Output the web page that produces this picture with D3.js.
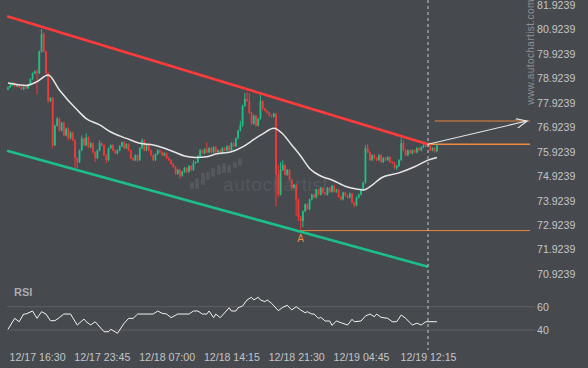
<!DOCTYPE html>
<html>
<head>
<meta charset="utf-8">
<script src="https://cdn.jsdelivr.net/npm/d3@7"></script>
<style>
  body { margin: 0; background: #46494e; }
  svg text { font-family: "Liberation Sans", Arial, sans-serif; }
</style>
</head>
<body>
<div id="chart"></div>
<script>
// 15 minute bars, bar 0 = 12/17 13:15
var opens = [78.48,78.56,78.65,78.73,78.60,78.65,78.56,78.48,78.56,78.52,
78.65,78.89,79.13,79.21,79.13,80.02,80.74,80.02,79.13,78.00,
78.12,76.19,76.99,77.27,76.79,77.11,76.59,76.87,76.47,76.71,
76.39,75.66,75.50,75.98,76.47,76.19,76.51,76.11,76.27,75.90,
75.66,75.98,76.27,76.19,75.78,75.58,76.07,76.19,75.98,75.86,
75.98,76.15,76.31,76.07,76.23,75.98,75.66,75.58,75.78,75.58,
76.07,76.39,75.98,76.23,75.98,75.78,75.58,75.82,75.98,75.90,
75.78,75.86,75.66,75.58,75.42,75.30,75.02,75.18,74.94,75.10,
75.26,75.10,75.34,75.18,75.46,75.50,75.74,75.98,75.86,76.03,
75.90,76.07,75.90,76.11,75.90,75.98,75.86,76.07,75.98,76.15,
75.98,76.27,76.15,76.47,76.79,76.99,77.80,78.08,78.00,77.52,
77.07,77.40,76.99,77.27,78.00,77.68,77.60,77.52,77.40,77.36,
77.48,74.98,74.17,75.18,75.38,74.98,75.18,74.78,74.45,74.57,
73.97,73.25,73.09,73.49,73.77,73.57,73.97,74.17,74.05,74.37,
74.17,74.45,74.25,74.17,74.45,74.29,74.53,74.29,74.37,74.09,
73.97,74.25,74.13,74.05,74.21,73.85,73.73,74.05,74.17,74.37,
74.66,76.07,75.90,75.58,75.78,75.66,75.58,75.78,75.50,75.66,
75.58,75.70,75.50,75.46,75.26,75.34,75.58,76.27,75.98,75.78,
75.98,75.86,75.98,75.90,76.07,75.98,76.11,76.19,76.15,76.27,
75.98,76.07,75.94];

var highs = [78.60,78.69,78.77,78.77,78.69,78.69,78.60,78.60,78.60,78.69,
78.93,79.17,79.25,79.29,80.06,80.94,80.80,80.06,79.17,78.16,
78.16,77.03,77.35,77.31,77.15,77.15,76.91,76.91,76.75,76.75,
76.43,75.70,76.02,76.59,76.51,76.67,76.55,76.31,76.31,75.94,
76.02,76.39,76.31,76.23,75.82,76.11,76.23,76.23,76.02,76.02,
76.19,76.35,76.35,76.27,76.27,76.02,75.70,75.82,75.82,76.11,
76.47,76.43,76.27,76.27,76.02,75.82,75.86,76.02,76.02,75.94,
75.90,75.90,75.70,75.62,75.46,75.34,75.22,75.22,75.14,75.30,
75.30,75.38,75.38,75.58,75.54,75.78,76.03,76.02,76.07,76.31,
76.11,76.11,76.15,76.15,76.02,76.02,76.11,76.11,76.19,76.19,
76.31,76.31,76.51,76.83,77.19,77.84,78.32,78.36,78.32,77.56,
77.44,77.44,77.31,78.24,78.04,77.72,77.64,77.56,77.44,77.52,
77.52,75.38,75.50,75.58,75.42,75.22,75.22,74.82,74.61,74.61,
74.01,73.29,73.53,73.81,73.81,74.01,74.21,74.21,74.41,74.41,
74.49,74.49,74.29,74.49,74.49,74.57,74.57,74.41,74.41,74.13,
74.29,74.29,74.17,74.25,74.25,73.89,74.09,74.21,74.41,74.70,
76.19,76.23,75.94,75.82,75.82,75.70,75.82,75.82,75.70,75.70,
75.74,75.74,75.54,75.50,75.38,75.62,76.51,76.39,76.02,76.02,
76.02,76.02,76.02,76.11,76.11,76.15,76.23,76.23,76.31,76.31,
76.11,76.11,76.23];

var lows = [78.44,78.52,78.61,78.56,78.56,78.52,78.44,78.44,78.48,78.48,
78.61,78.85,79.09,78.28,79.09,79.98,79.98,79.09,77.92,77.96,
76.07,76.15,76.95,76.75,76.75,76.55,76.55,76.39,76.43,76.35,
75.26,75.26,75.46,75.94,76.15,76.15,76.07,76.07,75.86,75.50,
75.62,75.94,76.15,75.74,75.46,75.54,76.03,75.94,75.82,75.82,
75.94,76.11,76.03,76.03,75.94,75.62,75.54,75.54,75.50,75.54,
76.03,75.94,75.94,75.94,75.74,75.54,75.54,75.78,75.86,75.74,
75.74,75.62,75.54,75.38,75.26,74.98,74.98,74.82,74.90,75.06,
75.06,75.06,75.14,75.14,75.42,75.46,75.70,75.82,75.82,75.86,
75.86,75.86,75.86,75.86,75.86,75.82,75.82,75.94,75.94,75.94,
75.94,76.11,76.11,76.43,76.75,76.95,77.76,77.96,77.48,77.03,
77.03,76.95,76.95,77.23,77.64,77.56,77.48,77.36,77.32,77.32,
73.69,74.09,74.13,75.14,74.94,74.94,74.74,74.41,74.41,73.29,
73.09,72.70,72.84,73.45,73.53,73.53,73.93,74.01,74.01,74.13,
74.13,74.21,74.13,74.13,74.25,74.25,74.25,74.25,74.05,73.93,
73.93,74.09,74.01,74.01,73.81,73.65,73.69,74.01,74.13,74.33,
74.62,75.86,75.54,75.54,75.62,75.54,75.54,75.46,75.46,75.54,
75.54,75.46,75.42,75.22,75.18,75.30,75.54,75.94,75.74,75.74,
75.82,75.82,75.86,75.86,75.94,75.94,76.07,76.11,76.11,75.94,
75.94,75.90,75.90];

var closes = [78.56,78.65,78.73,78.60,78.65,78.56,78.48,78.56,78.52,78.65,
78.89,79.13,79.21,79.13,80.02,80.74,80.02,79.13,78.00,78.12,
76.19,76.99,77.27,76.79,77.11,76.59,76.87,76.47,76.71,76.39,
75.66,75.50,75.98,76.47,76.19,76.51,76.11,76.27,75.90,75.66,
75.98,76.27,76.19,75.78,75.58,76.07,76.19,75.98,75.86,75.98,
76.15,76.31,76.07,76.23,75.98,75.66,75.58,75.78,75.58,76.07,
76.39,75.98,76.23,75.98,75.78,75.58,75.82,75.98,75.90,75.78,
75.86,75.66,75.58,75.42,75.30,75.02,75.18,74.94,75.10,75.26,
75.10,75.34,75.18,75.46,75.50,75.74,75.98,75.86,76.03,75.90,
76.07,75.90,76.11,75.90,75.98,75.86,76.07,75.98,76.15,75.98,
76.27,76.15,76.47,76.79,76.99,77.80,78.08,78.00,77.52,77.07,
77.40,76.99,77.27,78.00,77.68,77.60,77.52,77.40,77.36,77.48,
74.98,74.17,75.18,75.38,74.98,75.18,74.78,74.45,74.57,73.97,
73.25,73.09,73.49,73.77,73.57,73.97,74.17,74.05,74.37,74.17,
74.45,74.25,74.17,74.45,74.29,74.53,74.29,74.37,74.09,73.97,
74.25,74.13,74.05,74.21,73.85,73.73,74.05,74.17,74.37,74.66,
76.07,75.90,75.58,75.78,75.66,75.58,75.78,75.50,75.66,75.58,
75.70,75.50,75.46,75.26,75.34,75.58,76.27,75.98,75.78,75.98,
75.86,75.98,75.90,76.07,75.98,76.11,76.19,76.15,76.27,75.98,
76.07,75.94,76.19];

// moving average, read at a few bars
var maBars   = [0,8,13,18,23,31,35,41,46,53,59,65,69,75,79,84,89,93,100,105,109,114,119,123,127,131,135,140,145,152,156,159,163,167,175,182,188,192];
var maValues = [78.73,78.63,78.79,79.06,78.45,77.63,77.28,77.02,76.73,76.47,76.27,76.20,76.10,75.89,75.75,75.69,75.72,75.83,75.92,76.12,76.36,76.65,76.88,76.65,76.20,75.75,75.24,74.93,74.77,74.48,74.40,74.36,74.56,74.85,75.06,75.31,75.58,75.69];

// RSI
var rsiBars   = [0,3,5,7,8,11,13,15,17,19,21,23,25,28,31,34,35,37,39,43,45,46,49,52,54,56,58,59,65,67,69,71,73,76,81,83,85,87,89,90,92,93,95,99,100,102,103,105,107,109,110,112,113,115,116,118,121,123,125,127,129,131,133,134,136,137,139,140,142,144,145,147,149,152,154,155,158,160,162,164,165,167,170,172,174,176,178,181,183,185,187,192];
var rsiValues = [40.6,50.0,47.1,53.7,53.7,56.3,50.0,55.7,53.7,48.0,48.0,50.6,53.7,53.7,44.3,49.4,47.1,44.3,47.1,38.5,38.5,40.6,37.2,45.8,50.0,50.0,53.7,53.7,53.7,56.3,54.3,53.7,50.6,53.7,53.7,56.3,56.3,53.7,53.7,56.3,50.6,53.7,50.6,59.1,56.3,56.3,59.1,60.6,65.8,68.1,65.8,68.1,65.8,64.3,65.8,62.9,56.6,59.5,61.2,57.2,60.0,57.2,54.8,55.7,53.7,53.7,50.0,50.9,47.7,47.7,44.0,47.7,46.3,44.3,49.2,47.1,47.7,52.0,53.7,51.4,53.7,50.9,50.0,47.1,47.1,52.9,50.0,44.3,45.8,44.3,47.1,47.1];

var tickBars   = [13,42,71,100,129,158,188];
var tickLabels = ["12/17 16:30","12/17 23:45","12/18 07:00","12/18 14:15","12/18 21:30","12/19 04:45","12/19 12:15"];
var priceTicks = [70.9239,71.9239,72.9239,73.9239,74.9239,75.9239,76.9239,77.9239,78.9239,79.9239,80.9239,81.9239];
var rsiTicks = [40,60];

// pattern: channel lines [bar, price]
var resistance = [[-0.4,81.46],[188,76.23]];
var support    = [[-0.4,75.96],[188,71.22]];
var breakoutLevel = 76.23;
var targetLevel = 77.18;
var targetBar = 232.3;
var pointA = {bar:131, price:72.70};

var W = 588, H = 368;
var plotRight = 530;

var svg = d3.select("#chart").append("svg")
	.attr("width", W)
	.attr("height", H);

svg.append("rect").attr("width", W).attr("height", H).attr("fill", "#46494e");

var x = d3.scaleLinear().domain([0, 188]).range([8, 428]);
var y = d3.scaleLinear().domain([70.9239, 81.9239]).range([274, 5]);
var yr = d3.scaleLinear().domain([40, 60]).range([330, 306.7]);

// watermark
var wm = svg.append("g").attr("fill", "#54575c");
var wmBars = [[192,182,189],[197,178,189],[203,173,185],[208,172,180],[213,168,177],[219,165,175],[224,163,173],[229,165,173],[235,162,168],[240,158,166]];
wm.selectAll("rect").data(wmBars).enter().append("rect")
	.attr("x", d => d[0] - 2)
	.attr("y", d => d[1])
	.attr("width", 4)
	.attr("height", d => d[2] - d[1])
	.attr("rx", 1.2);
wm.append("text").attr("x", 223).attr("y", 191)
	.style("font-size", "19px")
	.style("letter-spacing", "0.6px")
	.text("autochartist");

svg.append("text")
	.attr("transform", "translate(534,52) rotate(-90)")
	.attr("text-anchor", "middle")
	.style("font-size", "10px")
	.style("letter-spacing", "0.4px")
	.attr("fill", "#8e9196")
	.text("www.autochartist.com");

// rsi grid
svg.selectAll(".rgrid").data(rsiTicks).enter().append("line")
	.attr("x1", 7).attr("x2", 535)
	.attr("y1", d => yr(d)).attr("y2", d => yr(d))
	.attr("stroke", "#5e6166").attr("stroke-width", 1);

// levels
svg.append("line")
	.attr("x1", x(pointA.bar)).attr("x2", plotRight)
	.attr("y1", y(pointA.price)).attr("y2", y(pointA.price))
	.attr("stroke", "#e8843c").attr("stroke-width", 1);
svg.append("line")
	.attr("x1", x(188)).attr("x2", plotRight)
	.attr("y1", y(breakoutLevel)).attr("y2", y(breakoutLevel))
	.attr("stroke", "#f08a3c").attr("stroke-width", 1.3);
svg.append("line")
	.attr("x1", x(191)).attr("x2", plotRight)
	.attr("y1", y(targetLevel)).attr("y2", y(targetLevel))
	.attr("stroke", "#e8843c").attr("stroke-width", 1);

// candles
var bars = d3.range(closes.length);
var up = "#1fbf86", down = "#f03a3a";
svg.append("g").selectAll("line").data(bars).enter().append("line")
	.attr("x1", i => x(i)).attr("x2", i => x(i))
	.attr("y1", i => y(highs[i])).attr("y2", i => y(lows[i]))
	.attr("stroke", i => closes[i] >= opens[i] ? up : down)
	.attr("stroke-width", 1);
svg.append("g").selectAll("rect").data(bars).enter().append("rect")
	.attr("x", i => x(i) - 0.9)
	.attr("width", 1.8)
	.attr("y", i => y(Math.max(opens[i], closes[i])))
	.attr("height", i => Math.max(1, Math.abs(y(opens[i]) - y(closes[i]))))
	.attr("fill", i => closes[i] >= opens[i] ? up : down);

// moving average
var ma = d3.line()
	.x((d, i) => x(maBars[i]))
	.y(d => y(d))
	.curve(d3.curveMonotoneX);
svg.append("path").datum(maValues)
	.attr("d", ma)
	.attr("fill", "none")
	.attr("stroke", "#e6e6e6")
	.attr("stroke-width", 1.5);

// channel
var chan = d3.line().x(d => x(d[0])).y(d => y(d[1]));
svg.append("path").datum(resistance).attr("d", chan)
	.attr("stroke", "#ff3b3b").attr("stroke-width", 2.6).attr("fill", "none");
svg.append("path").datum(support).attr("d", chan)
	.attr("stroke", "#1cbf8c").attr("stroke-width", 2.6).attr("fill", "none");

// dashed time marker
svg.append("line")
	.attr("x1", x(188)).attr("x2", x(188))
	.attr("y1", 0).attr("y2", 350)
	.attr("stroke", "#c8c9cc").attr("stroke-width", 1)
	.attr("stroke-dasharray", "3,3");

// forecast arrow
svg.append("defs").append("marker")
	.attr("id", "head")
	.attr("markerUnits", "userSpaceOnUse")
	.attr("viewBox", "0 0 12 10")
	.attr("refX", 11).attr("refY", 5)
	.attr("markerWidth", 12).attr("markerHeight", 10)
	.attr("orient", "auto")
	.append("path")
	.attr("d", "M0,0 L11,5 L0,10")
	.attr("fill", "none")
	.attr("stroke", "#e6e6e6")
	.attr("stroke-width", 1.2);
svg.append("line")
	.attr("x1", x(188)).attr("y1", y(breakoutLevel))
	.attr("x2", x(targetBar)).attr("y2", y(targetLevel))
	.attr("stroke", "#e6e6e6").attr("stroke-width", 1.2)
	.attr("marker-end", "url(#head)");

svg.append("text")
	.attr("x", x(pointA.bar)).attr("y", y(pointA.price) + 11)
	.attr("text-anchor", "middle")
	.style("font-size", "10px")
	.attr("fill", "#f08a3c")
	.text("A");

// rsi line
var rline = d3.line().x((d, i) => x(rsiBars[i])).y(d => yr(d));
svg.append("path").datum(rsiValues)
	.attr("d", rline)
	.attr("fill", "none")
	.attr("stroke", "#f2f2f2")
	.attr("stroke-width", 1);

svg.append("text").attr("x", 14).attr("y", 296)
	.style("font-size", "11px").style("font-weight", "bold")
	.attr("fill", "#a9abae")
	.text("RSI");

// axes
var yAxis = svg.append("g")
	.attr("transform", "translate(531,0)")
	.call(d3.axisRight(y).tickValues(priceTicks).tickSize(0).tickPadding(6).tickFormat(d3.format(".4f")));
var rAxis = svg.append("g")
	.attr("transform", "translate(531,0)")
	.call(d3.axisRight(yr).tickValues(rsiTicks).tickSize(0).tickPadding(6));
var xAxis = svg.append("g")
	.attr("transform", "translate(0,350)")
	.call(d3.axisBottom(x).tickValues(tickBars).tickSize(0).tickPadding(3)
		.tickFormat((d, i) => tickLabels[i]));

[yAxis, rAxis, xAxis].forEach(function(a){
	a.select(".domain").remove();
	a.selectAll("text")
		.attr("fill", "#c3c5c8")
		.style("font-size", "10.6px")
		.style("font-family", "'Liberation Sans', Arial, sans-serif");
});
</script>
</body>
</html>
